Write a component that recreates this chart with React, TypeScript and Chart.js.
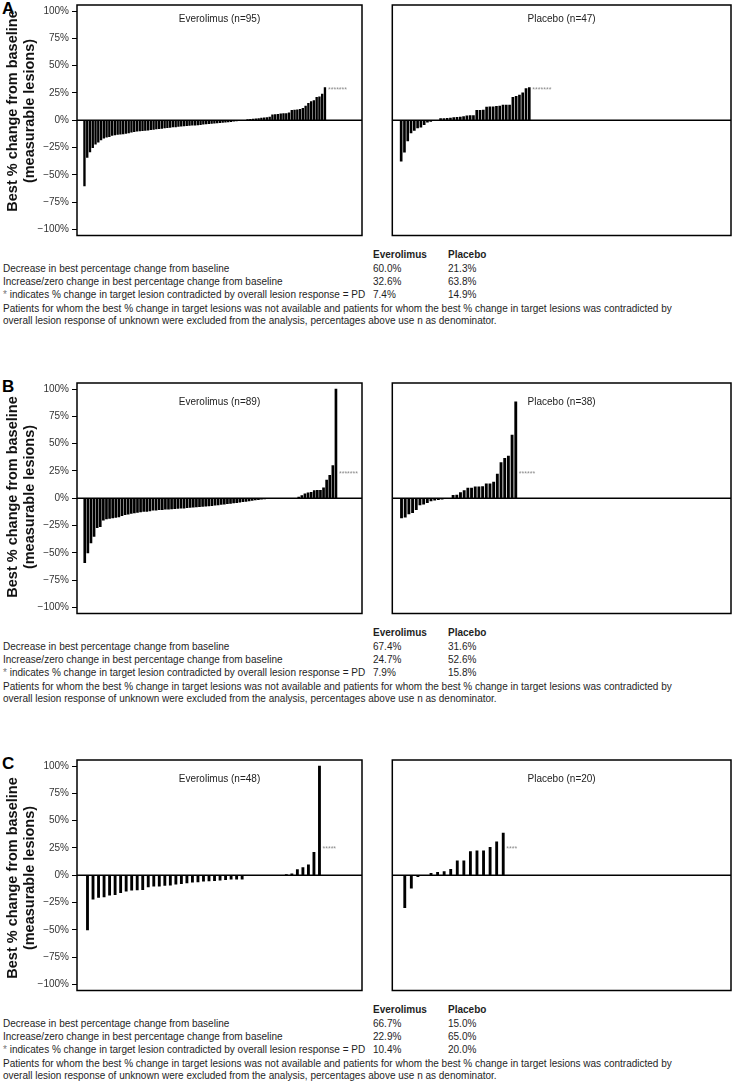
import React, { useEffect, useRef } from 'react';
import { Chart, registerables } from 'chart.js';

Chart.register(...registerables);

const FONT = '"Liberation Sans", Arial, Helvetica, sans-serif';
Chart.defaults.font.family = FONT;

// ---------- axis ----------
const Y_TICKS = [-100, -75, -50, -25, 0, 25, 50, 75, 100];
const Y_MIN = -105.5;
const Y_MAX = 105.5;
const Y_TITLE = ['Best % change from baseline', '(measurable lesions)'];

// ---------- panel A ----------
const A_EVE_DECREASE = [-60, -34, -29, -25, -22, -20, -18, -16.5, -15.5, -15, -14, -13.5, -13, -12.8, -12.5, -12, -11.5, -11, -10.5, -10, -9.8, -9.5, -9.2, -9, -8.7, -8.4, -8, -7.7, -7.4, -7.1, -6.8, -6.5, -6.2, -6, -5.7, -5.5, -5.2, -5, -4.8, -4.6, -4.4, -4.2, -4, -3.7, -3.4, -3.1, -2.9, -2.6, -2.4, -2.2, -2, -1.8, -1.5, -1.2, -0.9, -0.6, -0.3];
const A_EVE_INCREASE = [0, 0, 0.5, 0.8, 1, 1.3, 1.6, 1.9, 2.2, 2.5, 3, 5, 5.2, 5.5, 5.8, 6, 6.2, 6.8, 9, 9.3, 9.6, 10, 11, 13, 15.5, 17, 18, 21, 21.5, 24, 30];
const A_PLA_DECREASE = [-37.5, -29.3, -18.9, -11.6, -9.2, -7, -6.4, -4, -1.8, -1];
const A_PLA_INCREASE = [0, 0, 1.5, 1.5, 1.8, 2, 2.4, 2.7, 3, 3.3, 4, 4.3, 4.3, 9, 9, 9.2, 12, 12.3, 12.3, 12.8, 13, 14, 14, 14, 21, 22, 23, 25, 29, 30];
const A_STARS = [7, 7];
const A_STAR_LEVEL = 29.5;
const A_EVE_PCT = ['60.0%', '32.6%', '7.4%'];
const A_PLA_PCT = ['21.3%', '63.8%', '14.9%'];

// ---------- panel B ----------
const B_EVE_DECREASE = [-59, -50, -41, -35, -27, -26, -20, -19, -18.5, -18, -17.5, -17, -16, -15, -14.5, -14, -13.5, -13, -12.5, -12, -12, -11.5, -11, -11, -10.5, -10.5, -10, -10, -9.8, -9.5, -9.3, -9, -9, -8.7, -8.5, -8.2, -8, -7.8, -7.5, -7.2, -7, -6.7, -6.4, -6, -5.7, -5.4, -5, -4.7, -4.3, -4, -3.6, -3.2, -2.8, -2.4, -2, -1.6, -1.2, -0.9, -0.6, -0.3];
const B_EVE_INCREASE = [0, 0, 0, 0, 0, 0, 0, 0, 0, 1, 2.5, 4, 5, 5.5, 7, 7.3, 7.3, 9.5, 16.7, 21, 30, 100];
const B_PLA_DECREASE = [-18, -17.4, -14.3, -13.1, -10.4, -6.1, -5.5, -4, -2.4, -1.8, -1.2, -0.9];
const B_PLA_INCREASE = [0, 0, 2.7, 3, 5.2, 7, 9.4, 9.4, 10.4, 10.4, 10.7, 13.1, 13.1, 14.9, 22.2, 32.6, 36.5, 38.7, 57.8, 88.3];
const B_STARS = [7, 6];
const B_STAR_LEVEL = 24.4;
const B_EVE_PCT = ['67.4%', '24.7%', '7.9%'];
const B_PLA_PCT = ['31.6%', '52.6%', '15.8%'];

// ---------- panel C ----------
const C_EVE_DECREASE = [-50, -22, -20.4, -19.8, -18.3, -17.7, -15.9, -14.6, -13.7, -13.5, -13.1, -10.7, -10, -10, -9.4, -9.1, -8.2, -7.6, -7, -6.4, -6.1, -5.5, -5.2, -4.9, -4.6, -4, -3.7, -3.7, -3.5, -0.4, -0.3, -0.2];
const C_EVE_INCREASE = [0, 0, 0, 0, 0.6, 1.3, 5.2, 7, 9.5, 21, 100];
const C_PLA_DECREASE = [-29.6, -11.9, -1.2];
const C_PLA_INCREASE = [0, 1.8, 2.7, 3.4, 5.5, 13.1, 13.1, 21.6, 22.3, 22.3, 25.6, 30.5, 38.7];
const C_STARS = [5, 4];
const C_STAR_LEVEL = 25.5;
const C_EVE_PCT = ['66.7%', '22.9%', '10.4%'];
const C_PLA_PCT = ['15.0%', '65.0%', '20.0%'];

// ---------- text ----------
const GROUPS = ['Everolimus', 'Placebo'];
const ROW_LABELS = [
  'Decrease in best percentage change from baseline',
  'Increase/zero change in best percentage change from baseline',
  ' indicates % change in target lesion contradicted by overall lesion response = PD',
];
const FOOTNOTE = [
  'Patients for whom the best % change in target lesions was not available and patients for whom the best % change in target lesions was contradicted by',
  'overall lesion response of unknown were excluded from the analysis, percentages above use n as denominator.',
];

// ---------- layout ----------
const PANELS = [
  { letter: 'A', boxTop: 5, xRange: [-1.7, 101.4], titleOffset: 14, yTitleCenter: 106, eveDec: A_EVE_DECREASE, eveInc: A_EVE_INCREASE, plaDec: A_PLA_DECREASE, plaInc: A_PLA_INCREASE, stars: A_STARS, starLevel: A_STAR_LEVEL, evePct: A_EVE_PCT, plaPct: A_PLA_PCT, eveBar: 1.7, plaBar: 2 },
  { letter: 'B', boxTop: 383, xRange: [-1.5, 90.4], titleOffset: 19, yTitleCenter: 114, eveDec: B_EVE_DECREASE, eveInc: B_EVE_INCREASE, plaDec: B_PLA_DECREASE, plaInc: B_PLA_INCREASE, stars: B_STARS, starLevel: B_STAR_LEVEL, evePct: B_EVE_PCT, plaPct: B_PLA_PCT, eveBar: 2, plaBar: 2.2 },
  { letter: 'C', boxTop: 760, xRange: [-0.9, 50.7], titleOffset: 19, yTitleCenter: 118, eveDec: C_EVE_DECREASE, eveInc: C_EVE_INCREASE, plaDec: C_PLA_DECREASE, plaInc: C_PLA_INCREASE, stars: C_STARS, starLevel: C_STAR_LEVEL, evePct: C_EVE_PCT, plaPct: C_PLA_PCT, eveBar: 2.2, plaBar: 2.2 },
];
const BOX_H = 230.5;
const CANVAS_H = 240;

const fmtTick = (v: number) => (v < 0 ? '\u2212' + Math.abs(v) + '%' : v + '%');

const framePlugin = {
  id: 'frame',
  afterDraw(chart: any, _args: any, opts: any) {
    const { ctx, chartArea } = chart;
    const { left, top, right, bottom } = chartArea;
    const xs = chart.scales.x;
    const ys = chart.scales.y;
    ctx.save();
    ctx.strokeStyle = '#000';
    ctx.lineWidth = 1.5;
    ctx.strokeRect(left, top, right - left, bottom - top);
    const y0 = ys.getPixelForValue(0);
    ctx.beginPath();
    ctx.moveTo(left, y0);
    ctx.lineTo(right, y0);
    ctx.stroke();
    // panel title
    ctx.fillStyle = '#222';
    ctx.font = '10px ' + FONT;
    ctx.textAlign = 'center';
    ctx.textBaseline = 'middle';
    ctx.fillText(opts.title, (left + right) / 2, top + opts.titleOffset);
    // asterisks
    const fs = 7;
    ctx.fillStyle = '#8a8a8a';
    ctx.font = fs + 'px ' + FONT;
    ctx.textAlign = 'left';
    ctx.textBaseline = 'alphabetic';
    ctx.fillText('*'.repeat(opts.stars), xs.getPixelForValue(opts.n) + 3, ys.getPixelForValue(opts.starLevel) + 0.57 * fs);
    // y axis title
    if (opts.yTitle) {
      ctx.fillStyle = '#111';
      ctx.font = 'bold 14.5px ' + FONT;
      ctx.textAlign = 'center';
      ctx.textBaseline = 'alphabetic';
      const baselines = [17.3, 34.3];
      opts.yTitle.forEach((line: string, i: number) => {
        ctx.save();
        ctx.translate(baselines[i], top + opts.yTitleCenter);
        ctx.rotate(-Math.PI / 2);
        ctx.fillText(line, 0, 0);
        ctx.restore();
      });
    }
    ctx.restore();
  },
};

type WProps = {
  left: number; top: number; width: number;
  padLeft: number; padRight: number;
  values: number[]; xRange: number[]; title: string; titleOffset: number;
  stars: number; starLevel: number; showAxis: boolean; yTitleCenter: number; barThickness: number;
};

function Waterfall(p: WProps) {
  const ref = useRef<HTMLCanvasElement | null>(null);
  useEffect(() => {
    if (!ref.current) return;
    const data = p.values.map((v, i) => ({ x: i + 1, y: v }));
    const chart = new Chart(ref.current, {
      type: 'bar',
      data: {
        datasets: [{ data, backgroundColor: '#000', borderWidth: 0, barThickness: p.barThickness } as any],
      },
      options: {
        animation: false,
        responsive: false,
        maintainAspectRatio: false,
        devicePixelRatio: 1,
        layout: { padding: { left: p.padLeft, right: p.padRight, top: 5, bottom: CANVAS_H - 5 - BOX_H } },
        plugins: {
          legend: { display: false },
          tooltip: { enabled: false },
          frame: {
            title: p.title, titleOffset: p.titleOffset, stars: p.stars, starLevel: p.starLevel,
            n: p.values.length, yTitle: p.showAxis ? Y_TITLE : null, yTitleCenter: p.yTitleCenter,
          },
        } as any,
        scales: {
          x: { type: 'linear', min: p.xRange[0], max: p.xRange[1], display: false, offset: false },
          y: {
            type: 'linear',
            min: Y_MIN,
            max: Y_MAX,
            display: p.showAxis,
            afterBuildTicks: (s: any) => { s.ticks = Y_TICKS.map((v) => ({ value: v })); },
            afterFit: (s: any) => { if (p.showAxis) s.width = 77; s.paddingTop = 0; s.paddingBottom = 0; },
            ticks: {
              callback: (v: any) => fmtTick(Number(v)),
              font: { size: 10, family: FONT },
              color: '#333',
              padding: 3,
              autoSkip: false,
            },
            grid: { drawOnChartArea: false, drawTicks: true, tickLength: 5, color: '#000', lineWidth: 1 },
            border: { display: false },
          },
        },
      } as any,
      plugins: [framePlugin],
    });
    return () => chart.destroy();
  }, []);
  return (
    <canvas
      ref={ref}
      width={p.width}
      height={CANVAS_H}
      style={{ position: 'absolute', left: p.left, top: p.top, width: p.width, height: CANVAS_H }}
    />
  );
}

const textBase: React.CSSProperties = {
  position: 'absolute',
  fontFamily: FONT,
  fontSize: 10,
  lineHeight: '12px',
  color: '#1e1e1e',
  whiteSpace: 'nowrap',
};

function Summary({ center, evePct, plaPct }: { center: number; evePct: string[]; plaPct: string[] }) {
  const rows = [13.7, 27, 39.6];
  const foot = [54.4, 66.2];
  return (
    <>
      <div style={{ ...textBase, top: center - 6, left: 373, fontWeight: 'bold' }}>{GROUPS[0]}</div>
      <div style={{ ...textBase, top: center - 6, left: 448, fontWeight: 'bold' }}>{GROUPS[1]}</div>
      {ROW_LABELS.map((lab, i) => (
        <React.Fragment key={i}>
          <div style={{ ...textBase, top: center + rows[i] - 6, left: 3 }}>
            {i === 2 ? <span style={{ color: '#777' }}>*</span> : null}
            {lab}
          </div>
          <div style={{ ...textBase, top: center + rows[i] - 6, left: 373 }}>{evePct[i]}</div>
          <div style={{ ...textBase, top: center + rows[i] - 6, left: 448 }}>{plaPct[i]}</div>
        </React.Fragment>
      ))}
      {FOOTNOTE.map((t, i) => (
        <div key={'f' + i} style={{ ...textBase, top: center + foot[i] - 6, left: 3 }}>{t}</div>
      ))}
    </>
  );
}

export default function App() {
  return (
    <div style={{ position: 'absolute', left: 0, top: 0, width: 732, height: 1082, background: '#fff', overflow: 'hidden' }}>
      {PANELS.map((pn) => {
        const eve = [...pn.eveDec, ...pn.eveInc];
        const pla = [...pn.plaDec, ...pn.plaInc];
        const nEve = pn.eveDec.length + pn.eveInc.length + pn.stars[0];
        const nPla = pn.plaDec.length + pn.plaInc.length + pn.stars[1];
        const canvasTop = pn.boxTop - 5;
        return (
          <React.Fragment key={pn.letter}>
            <div style={{ position: 'absolute', left: 2, top: pn.boxTop - 2.5 - 2.2, fontFamily: FONT, fontSize: 17, lineHeight: '17px', fontWeight: 'bold', color: '#000' }}>
              {pn.letter}
            </div>
            <Waterfall
              left={0} top={canvasTop} width={366} padLeft={0} padRight={4}
              values={eve} xRange={pn.xRange} title={`Everolimus (n=${nEve})`} titleOffset={pn.titleOffset}
              stars={pn.stars[0]} starLevel={pn.starLevel} showAxis={true} yTitleCenter={pn.yTitleCenter} barThickness={pn.eveBar}
            />
            <Waterfall
              left={386} top={canvasTop} width={346} padLeft={6.3} padRight={1}
              values={pla} xRange={pn.xRange} title={`Placebo (n=${nPla})`} titleOffset={pn.titleOffset}
              stars={pn.stars[1]} starLevel={pn.starLevel} showAxis={false} yTitleCenter={0} barThickness={pn.plaBar}
            />
            <Summary center={pn.boxTop + BOX_H + 19.5} evePct={pn.evePct} plaPct={pn.plaPct} />
          </React.Fragment>
        );
      })}
    </div>
  );
}
